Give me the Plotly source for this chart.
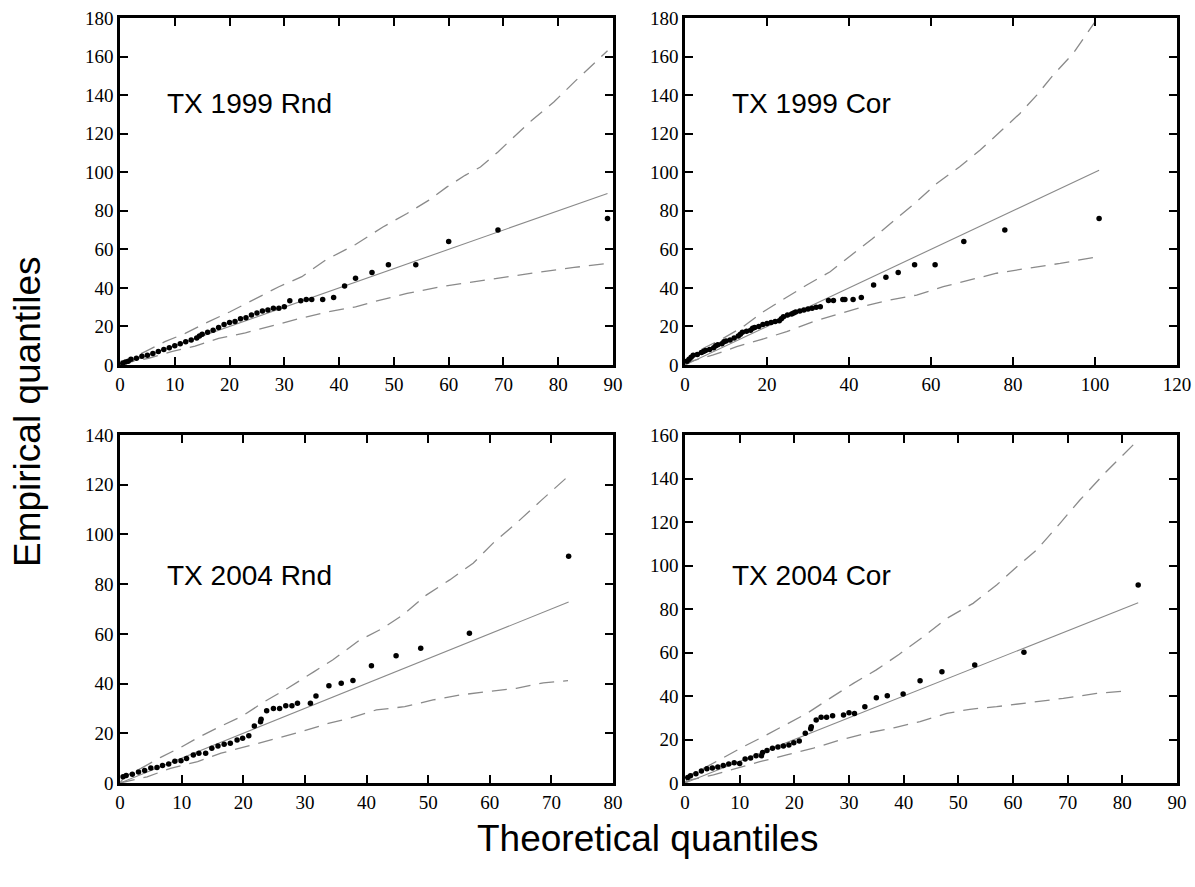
import plotly.graph_objects as go

W, H = 1195, 887

# ---------------- Data ----------------
# Panel 1: TX 1999 Rnd
p1_theo = [0.5, 1, 1.5, 2, 3, 4, 5, 6, 7, 8, 9, 10, 11, 12, 13, 14, 14.5, 15, 16, 17, 18, 19, 20, 21, 22,
           23, 24, 25, 26, 27, 28, 29, 30, 31, 33, 34, 35, 37, 39, 41, 43, 46, 49, 54, 60, 69, 89]
p1_emp = [1, 1.5, 2, 3, 3.5, 4.5, 5, 6, 7, 8, 9, 10, 11, 12, 13, 14, 15, 16, 17, 18, 19.5, 21, 22, 22.5, 24,
          24.5, 26, 27, 28, 28.5, 29.4, 29.4, 30.2, 33.3, 33.3, 34, 34, 34, 35, 41, 45, 48, 52, 52, 64, 70, 76]
p1_up_x = [0, 1.5, 4.6, 8.2, 11.9, 16.1, 20.1, 24.4, 29, 33.2, 37.5, 43, 48, 52.4, 56.4, 59.7, 63, 65.8,
           69, 71.6, 75.2, 79.2, 83, 89]
p1_up_y = [0, 2.6, 6.9, 12.1, 16.4, 22.4, 27.6, 33.7, 40.6, 45.8, 54.4, 62.5, 71.6, 78.6, 85.5, 92.4, 98.4,
           102.7, 110.5, 117.5, 127, 136.4, 147, 163]
p1_lo_x = [0, 1, 5.2, 9.4, 13.7, 18, 22.9, 27.1, 32.9, 38.1, 43, 46.3, 52.4, 58.5, 64.6, 70.7, 76.8, 82.9, 89]
p1_lo_y = [0, 1, 3.5, 6.9, 9.8, 13.8, 16.7, 19.8, 24.2, 27.6, 30.2, 32.8, 37.1, 40.6, 43.2, 45.8, 48.3, 50.6, 52.7]

# Panel 2: TX 1999 Cor
p2_theo = [0.5, 1, 1.5, 2, 3, 4, 4.5, 5, 6, 7, 7.5, 8, 9, 9.5, 10, 11, 12, 13, 13.5, 14, 15, 16, 16.5, 17,
           18, 19, 20, 21, 22, 23, 23.5, 24, 25, 26, 26.5, 27, 28, 29, 30, 31, 32, 33, 35, 36.2, 38.5, 39,
           41, 43, 46, 49, 52, 56, 61, 68, 78, 101]
p2_emp = [2, 3, 4, 5, 5.5, 6.5, 7, 7.5, 8, 9, 10, 10.5, 11, 12, 12.5, 13, 14, 15, 16, 17, 17.5, 18, 19, 19.5,
          20, 21, 21.5, 22, 22.5, 23, 24, 25, 26, 26.5, 27, 27.5, 28, 28.5, 29, 29.4, 30, 30.2, 33.4, 33.4, 34, 34,
          34, 35, 41.5, 45.5, 48, 52, 52, 64, 70, 76]
p2_up_x = [0, 0.4, 4.5, 9.3, 14.2, 19.1, 24.4, 29.7, 35.4, 41, 45.7, 51.6, 56.5, 61.4, 67, 72, 76.8, 81.7,
           85.8, 89.8, 94.7, 100]
p2_up_y = [0, 3, 8.7, 13.8, 19.9, 27.6, 34.6, 41.5, 48.4, 57.6, 65.5, 76, 84.7, 94.2, 102.8, 111.5, 121,
           130.5, 140, 150.4, 161.7, 178]
p2_lo_x = [0, 1.2, 6.9, 12.6, 18.3, 24.8, 31.3, 37.8, 44.3, 50, 56.5, 63, 69.5, 76, 83.3, 91.5, 100]
p2_lo_y = [0, 1.7, 5.2, 9.5, 13, 17.3, 22.5, 26.8, 30.8, 33.7, 36.3, 40.6, 44, 47.6, 50.1, 52.7, 55.9]

# Panel 3: TX 2004 Rnd
p3_theo = [0.5, 1, 2, 3, 4, 5, 6, 6.9, 7.9, 8.9, 9.9, 10.8, 11.9, 12.8, 13.9, 14.9, 15.9, 16.9, 17.9, 19,
           19.9, 20.9, 21.8, 22.8, 22.9, 23.8, 24.9, 25.9, 26.9, 27.9, 28.8, 30.9, 31.8, 33.9, 35.9, 37.8,
           40.8, 44.8, 48.8, 56.7, 72.8]
p3_emp = [2.5, 3, 3.5, 4.4, 5, 6, 6.2, 7, 7.6, 8.8, 9, 9.9, 11.3, 12, 12, 14, 14.9, 15.6, 16, 17.3,
          18, 19, 22.9, 24.6, 25.6, 29.1, 30, 30, 31.1, 31.1, 32.1, 32.1, 35, 39.1, 40.1, 41.2,
          47.2, 51.2, 54.2, 60.2, 91.2]
p3_up_x = [0, 0.7, 3.4, 6.6, 9.9, 12.6, 16.4, 19.9, 23.4, 27.2, 31.5, 34.5, 38.9, 42.6, 45.9, 49.7, 53.5,
           57.3, 60.5, 64.3, 68.4, 73]
p3_up_y = [0, 2.5, 5.9, 10.3, 14.4, 18.2, 22.9, 27, 32.7, 38.1, 44.8, 49.5, 57.5, 62.2, 67.6, 75.6, 81.7,
           88.4, 96.4, 104.5, 113.8, 124]
p3_lo_x = [0, 0.8, 4.4, 8.2, 12.6, 16.4, 20.7, 24.5, 29.4, 33.8, 37.2, 41.6, 46.2, 50.8, 55.1, 59.5, 64.3,
           68.7, 72.7]
p3_lo_y = [0, 0.5, 2.5, 5.9, 8.6, 12, 14.9, 17.3, 20.6, 24, 26, 29.4, 30.7, 33.4, 35.4, 36.7, 38.1, 40.3, 41.2]

# Panel 4: TX 2004 Cor
p4_theo = [0.5, 1, 2, 3, 4, 5, 6, 7, 8, 9, 10, 11, 12, 13, 14, 14.2, 15, 16, 17, 18, 19, 19.9, 20.9, 22,
           23, 23.1, 24, 24.9, 25.9, 27, 29, 30, 31, 32.9, 35, 37, 39.9, 43, 47, 53, 62, 82.9]
p4_emp = [2.5, 3.3, 4.3, 5.5, 6.5, 6.9, 7.4, 8, 8.7, 9.3, 9, 11, 11.5, 12.5, 12.5, 14, 15, 16, 16.5, 17,
          17.5, 18.5, 19.3, 22.9, 25, 25.9, 29, 30.2, 30.2, 30.9, 31.3, 32.3, 32, 35.1, 39.2, 40.1, 40.9,
          47, 51.2, 54.3, 60.1, 91]
p4_up_x = [0, 0.9, 4, 7.3, 10.7, 14.3, 18.3, 22.3, 26.5, 30.8, 35, 39.2, 43.6, 47.9, 52.7, 57, 60.7, 64.3,
           68.6, 72.2, 77, 83]
p4_up_y = [0, 3.7, 7.5, 12.1, 16.7, 21.3, 26.7, 32, 38.9, 45.8, 52, 59.2, 67.3, 75.7, 82.6, 91, 99.4,
           107.1, 119.4, 130, 143, 158]
p4_lo_x = [0, 0.9, 5.2, 9.5, 13.7, 18.6, 23.5, 28.4, 33.2, 38.2, 43, 47.9, 52.1, 57, 63.1, 69.2, 75.3, 80.8]
p4_lo_y = [0, 1.4, 3.7, 6.8, 9.8, 12.9, 16, 19.8, 22.9, 25.4, 28.2, 32, 33.9, 35.1, 36.9, 38.9, 41.2, 42.4]

titles = ["TX 1999 Rnd", "TX 1999 Cor", "TX 2004 Rnd", "TX 2004 Cor"]
x_ranges = [[0, 90], [0, 120], [0, 80], [0, 90]]
y_ranges = [[0, 180], [0, 180], [0, 140], [0, 160]]
x_dticks = [10, 20, 10, 10]
y_dticks = [20, 20, 20, 20]

panels = [
    (p1_theo, p1_emp, p1_up_x, p1_up_y, p1_lo_x, p1_lo_y),
    (p2_theo, p2_emp, p2_up_x, p2_up_y, p2_lo_x, p2_lo_y),
    (p3_theo, p3_emp, p3_up_x, p3_up_y, p3_lo_x, p3_lo_y),
    (p4_theo, p4_emp, p4_up_x, p4_up_y, p4_lo_x, p4_lo_y),
]


def px2x(px):
    return px / W


def px2y(py):
    return 1 - py / H


# ---------------- Layout geometry (window pixels) ----------------
px_x = [(120, 613), (685, 1177), (120, 613), (685, 1177)]
px_y = [(18, 365), (18, 365), (435, 783), (435, 783)]

fig = go.Figure()
GRAY = "#8a8a8a"
layout = {}
for i, (theo, emp, ux, uy, lx, ly) in enumerate(panels):
    n = i + 1
    xa = "x" if n == 1 else f"x{n}"
    ya = "y" if n == 1 else f"y{n}"
    fig.add_trace(go.Scatter(x=ux, y=uy, mode="lines", xaxis=xa, yaxis=ya,
                             line=dict(color=GRAY, width=1.3, dash="15px,9px"), hoverinfo="skip"))
    fig.add_trace(go.Scatter(x=lx, y=ly, mode="lines", xaxis=xa, yaxis=ya,
                             line=dict(color=GRAY, width=1.3, dash="15px,9px"), hoverinfo="skip"))
    lmax = max(theo)
    fig.add_trace(go.Scatter(x=[0, lmax], y=[0, lmax], mode="lines", xaxis=xa, yaxis=ya,
                             line=dict(color=GRAY, width=1.1), hoverinfo="skip"))
    fig.add_trace(go.Scatter(x=theo, y=emp, mode="markers", xaxis=xa, yaxis=ya,
                             marker=dict(color="black", size=5.5)))

    x0, x1 = px_x[i]
    y0, y1 = px_y[i]
    common = dict(showline=True, linecolor="black", linewidth=2.5, mirror="ticks",
                  ticks="inside", ticklen=8, tickwidth=1.5, tickcolor="black",
                  showgrid=False, zeroline=False, fixedrange=True, automargin=False,
                  ticklabeloverflow="allow",
                  tickfont=dict(family="Liberation Serif", size=19, color="black"))
    layout["xaxis" if n == 1 else f"xaxis{n}"] = dict(
        domain=[px2x(x0), px2x(x1)], range=x_ranges[i], dtick=x_dticks[i], tick0=0,
        anchor=ya, **common)
    layout["yaxis" if n == 1 else f"yaxis{n}"] = dict(
        domain=[px2y(y1), px2y(y0)], range=y_ranges[i], dtick=y_dticks[i], tick0=0,
        anchor=xa, **common)

annotations = []
title_px = [(165, 104), (730, 104), (165, 575), (730, 575)]
for t, (tx, ty) in zip(titles, title_px):
    annotations.append(dict(text=t, x=px2x(tx), y=px2y(ty), xref="paper", yref="paper",
                            xanchor="left", yanchor="middle", showarrow=False,
                            font=dict(family="Liberation Sans", size=28, color="black")))
annotations.append(dict(text="Empirical quantiles", x=px2x(28), y=px2y(412), xref="paper", yref="paper",
                        textangle=-90, showarrow=False, xanchor="center", yanchor="middle",
                        font=dict(family="Liberation Sans", size=37, color="black")))
annotations.append(dict(text="Theoretical quantiles", x=px2x(648), y=px2y(838), xref="paper", yref="paper",
                        showarrow=False, xanchor="center", yanchor="middle",
                        font=dict(family="Liberation Sans", size=37, color="black")))

fig.update_layout(width=W, height=H, margin=dict(l=0, r=0, t=0, b=0),
                  paper_bgcolor="white", plot_bgcolor="white", showlegend=False,
                  annotations=annotations, **layout)

fig.write_html("out.html", config={"displayModeBar": False},
               post_script="document.body.style.margin='0';document.body.style.overflow='hidden';")
